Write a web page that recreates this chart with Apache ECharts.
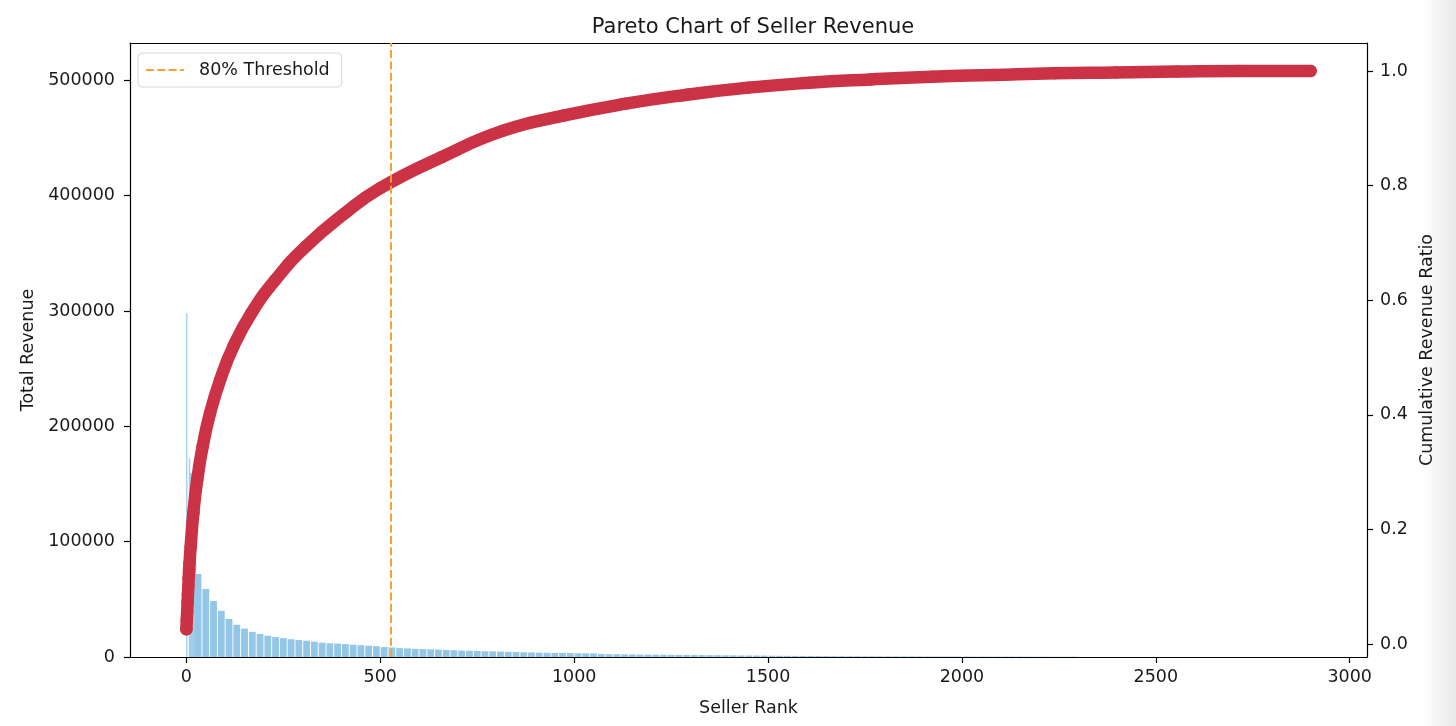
<!DOCTYPE html>
<html>
<head>
<meta charset="utf-8">
<title>Pareto Chart of Seller Revenue</title>
<script src="https://cdn.jsdelivr.net/npm/echarts@6/dist/echarts.min.js"></script>
<style>
    html, body { margin: 0; padding: 0; background: #fff; }
    #chart { width: 1456px; height: 726px; }
</style>
</head>
<body>
<div id="chart"></div>
<script>
// 头部几个卖家（细柱）
var headRanks = [1, 8, 11, 12, 13, 14, 16, 18, 20, 22, 24];
var headRevenue = [298000, 172000, 160000, 159000, 158000, 157000, 140000, 120000, 100000, 90000, 82000];

// 其余卖家，每 20 名取一个读数
var midRanks = [30, 50, 70, 90, 110, 130, 150, 170, 190, 210, 230, 250, 270, 290, 310, 330, 350, 370, 390, 410,
    430, 450, 470, 490, 510, 530, 550, 570, 590, 610, 630, 650, 670, 690, 710, 730, 750, 770, 790, 810,
    830, 850, 870, 890, 910, 930, 950, 970, 990, 1010, 1030, 1050, 1070, 1090, 1110, 1130, 1150, 1170, 1190, 1210,
    1230, 1250, 1270, 1290, 1310, 1330, 1350, 1370, 1390, 1410, 1430, 1450, 1470, 1490, 1510, 1530, 1550, 1570, 1590, 1610,
    1630, 1650, 1670, 1690, 1710, 1730, 1750, 1770, 1790, 1810, 1830, 1850, 1870, 1890, 1910, 1930, 1950, 1970, 1990, 2010,
    2030, 2050, 2070, 2090, 2110, 2130, 2150, 2170, 2190, 2210, 2230, 2250, 2270, 2290];
var midRevenue = [72000, 59000, 48500, 40000, 33000, 28000, 24600, 21800, 19900, 18400, 17300, 16400, 15400, 14700, 14100, 13300, 12400, 11900, 11600, 11200,
    10700, 10300, 9800, 9400, 8600, 8300, 7700, 7400, 7100, 6900, 6700, 6400, 6100, 5900, 5600, 5400, 5200, 5000, 4900, 4700,
    4500, 4300, 4100, 3950, 3800, 3650, 3500, 3450, 3350, 3250, 3200, 3100, 2650, 2450, 2350, 2300, 2250, 2150, 2050, 2000,
    1950, 1900, 1850, 1800, 1750, 1700, 1600, 1550, 1500, 1400, 1350, 1300, 1250, 1200, 1100, 1050, 1000, 950, 900, 860,
    820, 780, 740, 710, 680, 650, 620, 590, 570, 550, 530, 510, 490, 470, 450, 430, 420, 400, 390, 370,
    350, 340, 320, 310, 300, 290, 270, 260, 250, 240, 230, 220, 210, 200];

// 累计收入占比
var cumRanks = [0, 1, 2, 3, 4, 5, 6, 7, 8, 11, 18, 28, 42, 61, 87, 121, 168, 230, 308, 409,
    501, 659, 817, 975, 1133, 1291, 1449, 1607, 1765, 1923, 2081, 2239, 2397, 2555, 2713, 2899];
var cumRatio = [0.026, 0.042, 0.056, 0.072, 0.086, 0.100, 0.115, 0.130, 0.141, 0.170, 0.229, 0.287, 0.345, 0.403, 0.461, 0.519, 0.578, 0.636, 0.694, 0.752,
    0.796, 0.850, 0.896, 0.9225, 0.943, 0.9587, 0.971, 0.9796, 0.9854, 0.9901, 0.9932, 0.9962, 0.9976, 0.9991, 1.0, 1.0];

var thresholdRank = 527;

// 刻度
var xTicks = [0, 500, 1000, 1500, 2000, 2500, 3000];
var revenueTicks = [0, 100000, 200000, 300000, 400000, 500000];
var ratioTicks = [0, 0.2, 0.4, 0.6, 0.8, 1.0];

function zip(a, b) {
    var out = [];
    for (var i = 0; i < a.length; i++) {
        out.push([a[i], b[i]]);
    }
    return out;
}

var font = 'DejaVu Sans';
var fs = 17.5;
var ink = '#1a1a1a';
var axisLineStyle = { color: '#000', width: 1.2 };
var plain = function (v) { return String(v); };

var chart = echarts.init(document.getElementById('chart'), null, { renderer: 'canvas' });

var option = {
    animation: false,
    backgroundColor: '#fff',
    textStyle: { fontFamily: font },
    title: {
        text: 'Pareto Chart of Seller Revenue',
        left: 748,
        top: 12,
        textAlign: 'center',
        textStyle: { fontFamily: font, fontSize: 21, fontWeight: 'normal', color: ink }
    },
    legend: {
        data: ['80% Threshold'],
        left: 138,
        top: 53,
        orient: 'vertical',
        padding: [8, 12, 8, 7],
        itemWidth: 38,
        itemHeight: 14,
        itemStyle: { opacity: 0 },
        lineStyle: { color: '#f5a233', width: 2, type: [8, 3.3] },
        backgroundColor: 'rgba(255,255,255,0.8)',
        borderColor: '#d6d6d6',
        borderWidth: 1,
        borderRadius: 4,
        textStyle: { fontFamily: font, fontSize: fs, color: ink, padding: [0, 0, 0, 10] }
    },
    grid: { left: 130, right: 89, top: 43, bottom: 69, containLabel: false },
    xAxis: [
        {
            type: 'value',
            position: 'bottom',
            min: -145.4,
            max: 3044.6,
            name: 'Seller Rank',
            nameLocation: 'middle',
            nameGap: 42,
            nameTextStyle: { fontFamily: font, fontSize: fs, color: ink },
            axisLine: { show: true, lineStyle: axisLineStyle },
            axisTick: { show: true, length: 6, lineStyle: axisLineStyle, customValues: xTicks },
            axisLabel: { fontFamily: font, fontSize: fs, color: ink, margin: 11, customValues: xTicks, formatter: plain },
            splitLine: { show: false }
        },
        {
            type: 'value',
            position: 'top',
            min: -145.4,
            max: 3044.6,
            axisLine: { show: true, onZero: false, lineStyle: axisLineStyle },
            axisTick: { show: false },
            axisLabel: { show: false },
            splitLine: { show: false }
        }
    ],
    yAxis: [
        {
            type: 'value',
            position: 'left',
            min: 0,
            max: 532300,
            name: 'Total Revenue',
            nameLocation: 'middle',
            nameRotate: 90,
            nameGap: 91,
            nameTextStyle: { fontFamily: font, fontSize: fs, color: ink },
            axisLine: { show: true, onZero: false, lineStyle: axisLineStyle },
            axisTick: { show: true, length: 6, lineStyle: axisLineStyle, customValues: revenueTicks },
            axisLabel: { fontFamily: font, fontSize: fs, color: ink, margin: 15, customValues: revenueTicks, formatter: plain },
            splitLine: { show: false }
        },
        {
            type: 'value',
            position: 'right',
            min: -0.0224,
            max: 1.0489,
            name: 'Cumulative Revenue Ratio',
            nameLocation: 'middle',
            nameRotate: 90,
            nameGap: 46,
            nameTextStyle: { fontFamily: font, fontSize: fs, color: ink },
            axisLine: { show: true, onZero: false, lineStyle: axisLineStyle },
            axisTick: { show: true, length: 6, lineStyle: axisLineStyle, customValues: ratioTicks },
            axisLabel: {
                fontFamily: font, fontSize: fs, color: ink, margin: 13, customValues: ratioTicks,
                formatter: function (v) { return v.toFixed(1); }
            },
            splitLine: { show: false }
        }
    ],
    series: [
        {
            name: 'revenueHead',
            type: 'bar',
            xAxisIndex: 1,
            yAxisIndex: 0,
            barWidth: 1.3,
            itemStyle: { color: '#9fcdea' },
            data: zip(headRanks, headRevenue),
            z: 1
        },
        {
            name: 'revenue',
            type: 'bar',
            xAxisIndex: 0,
            yAxisIndex: 0,
            barWidth: 6.8,
            itemStyle: { color: '#93c6e7' },
            data: zip(midRanks, midRevenue),
            z: 1
        },
        {
            name: 'Cumulative Ratio',
            type: 'line',
            xAxisIndex: 0,
            yAxisIndex: 1,
            smooth: 0.5,
            symbol: 'circle',
            symbolSize: 12.5,
            showSymbol: true,
            lineStyle: { color: '#cb3245', width: 12.5, cap: 'round', join: 'round' },
            itemStyle: { color: '#cb3245', borderWidth: 0 },
            data: zip(cumRanks, cumRatio),
            z: 3
        },
        {
            name: '80% Threshold',
            type: 'line',
            xAxisIndex: 0,
            yAxisIndex: 1,
            symbol: 'none',
            data: [],
            lineStyle: { color: '#f5a233', width: 2, type: [8, 3.3] },
            itemStyle: { color: '#f5a233' },
            markLine: {
                silent: true,
                symbol: 'none',
                label: { show: false },
                lineStyle: { color: '#f5a233', width: 2, type: [8, 3.3] },
                data: [{ xAxis: thresholdRank }]
            },
            z: 5
        }
    ],
    graphic: [
        {
            type: 'rect',
            shape: { x: 1422, y: 0, width: 34, height: 726 },
            style: {
                fill: new echarts.graphic.LinearGradient(0, 0, 1, 0, [
                    { offset: 0, color: 'rgba(0,0,0,0)' },
                    { offset: 1, color: 'rgba(0,0,0,0.09)' }
                ])
            },
            silent: true,
            z: -1
        }
    ]
};

chart.setOption(option);
</script>
</body>
</html>
